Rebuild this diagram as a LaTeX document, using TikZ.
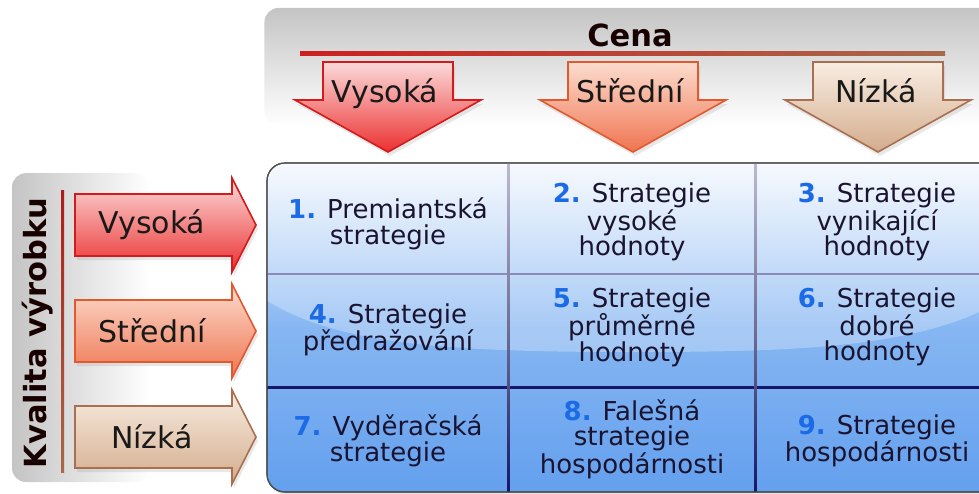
\documentclass[tikz,border=0pt]{standalone}
\usepackage{fontspec}
\setmainfont{DejaVu Sans}
\usetikzlibrary{positioning,shadows,fadings}

\definecolor{bandgray}{HTML}{C4C4C4}
\definecolor{inkdark}{HTML}{1A1430}
\definecolor{numblue}{HTML}{1C6BE6}
\definecolor{rulered}{HTML}{CC2020}
\definecolor{rulebrown}{HTML}{A8684A}
\definecolor{hiedge}{HTML}{D41A1A}
\definecolor{hitop}{HTML}{FBDADA}
\definecolor{hibot}{HTML}{EC3030}
\definecolor{midedge}{HTML}{E05A2E}
\definecolor{midtop}{HTML}{FCDCCE}
\definecolor{midbot}{HTML}{EF7450}
\definecolor{lowedge}{HTML}{A87050}
\definecolor{lowtop}{HTML}{F8EDE2}
\definecolor{lowbot}{HTML}{D4AC8C}
\definecolor{boxtop}{HTML}{F4F8FE}
\definecolor{boxmid}{HTML}{86B6F2}
\definecolor{boxbot}{HTML}{64A0EE}
\definecolor{gridlight}{HTML}{8C8AB8}
\definecolor{griddark}{HTML}{16166A}

\newcommand{\num}[1]{{\bfseries\color{numblue}#1}}

\tikzset{
  hiarrow/.style={draw=hiedge, line width=1.6pt, top color=hitop, bottom color=hibot,
    drop shadow={opacity=0.18, shadow xshift=2pt, shadow yshift=-4pt}},
  midarrow/.style={draw=midedge, line width=1.6pt, top color=midtop, bottom color=midbot,
    drop shadow={opacity=0.18, shadow xshift=2pt, shadow yshift=-4pt}},
  lowarrow/.style={draw=lowedge, line width=1.6pt, top color=lowtop, bottom color=lowbot,
    drop shadow={opacity=0.18, shadow xshift=2pt, shadow yshift=-4pt}},
  arrowlabel/.style={font=\fontsize{30}{36}\selectfont, text=black!90, inner sep=0pt},
  headlabel/.style={font=\bfseries\fontsize{30.5}{36}\selectfont, text=black!90!red, inner sep=0pt},
  celltext/.style={font=\fontsize{26}{25.5}\selectfont, text=inkdark, align=center, inner sep=0pt},
  gridframe/.style={draw=black!70, line width=1.2pt, rounded corners=18pt,
    top color=boxtop, bottom color=boxbot, middle color=boxmid,
    drop shadow={opacity=0.2, shadow xshift=2pt, shadow yshift=-3pt}}
}

\begin{document}
\begin{tikzpicture}[x=1pt, y=-1pt]
  \useasboundingbox (0,0) rectangle (979,493);
  \clip (0,0) rectangle (979,493);

  % grey bands behind the two axis titles
  \fill[bandgray, path fading=south, rounded corners=14pt] (265,8) rectangle (1010,125);
  \fill[bandgray, path fading=east, rounded corners=14pt] (12,173) rectangle (150,482);

  % axis titles and rules
  \node[headlabel] (cena) at (630,35) {Cena};
  \fill[left color=rulered, right color=rulebrown] (300,51.5) rectangle (945,55);
  \node[headlabel, rotate=90] (kvalita) at (38,333) {Kvalita výrobku};
  \fill[top color=rulered!85!black, bottom color=rulebrown] (61,190) rectangle (64,472);

  % price arrows
  \draw[hiarrow] (323,62) -- (453,62) -- (453,100) -- (481,100) -- (388,152) -- (295,100) -- (323,100) -- cycle;
  \draw[midarrow] (568,62) -- (698,62) -- (698,100) -- (726,100) -- (633,152) -- (540,100) -- (568,100) -- cycle;
  \draw[lowarrow] (813,62) -- (943,62) -- (943,100) -- (971,100) -- (878,152) -- (785,100) -- (813,100) -- cycle;
  \node[arrowlabel, anchor=base] (pricehi) at (385,102) {Vysoká};
  \node[arrowlabel, anchor=base] (pricemid) at (630,102) {Střední};
  \node[arrowlabel, anchor=base] (pricelow) at (876,102) {Nízká};

  % quality arrows
  \draw[hiarrow] (75,194) -- (232,194) -- (232,178) -- (256,225) -- (232,272) -- (232,256) -- (75,256) -- cycle;
  \draw[midarrow] (75,300) -- (232,300) -- (232,284) -- (256,331) -- (232,378) -- (232,362) -- (75,362) -- cycle;
  \draw[lowarrow] (75,406) -- (232,406) -- (232,390) -- (256,437) -- (232,484) -- (232,468) -- (75,468) -- cycle;
  \node[arrowlabel] (qualhi) at (152,225) {Vysoká};
  \node[arrowlabel] (qualmid) at (152,331) {Střední};
  \node[arrowlabel] (quallow) at (152,437) {Nízká};

  % strategy grid
  \path[gridframe] (267,163) rectangle (1010,492);
  \begin{scope}
    \clip[rounded corners=18pt] (267,163) rectangle (1010,492);
    \fill[white, opacity=0.28] (260,155) -- (1010,155) -- (1010,295)
      .. controls (930,348) and (800,352) .. (630,352)
      .. controls (450,352) and (330,345) .. (260,296) -- cycle;
    \fill[gridlight] (267,272.8) rectangle (1010,275.3);
    \fill[griddark] (267,385.8) rectangle (1010,388.6);
    \fill[top color=gridlight!60!white, bottom color=griddark, middle color=gridlight!80!black] (507,163) rectangle (509.4,492);
    \fill[top color=gridlight!60!white, bottom color=griddark, middle color=gridlight!80!black] (754,163) rectangle (756.4,492);
  \end{scope}
  \path[draw=black!70, line width=1.2pt, rounded corners=18pt] (267,163) rectangle (1010,492);

  \node[celltext] (premium) at (388,224) {\num{1.} Premiantská\\strategie};
  \node[celltext] (highval) at (632,222) {\num{2.} Strategie\\vysoké\\hodnoty};
  \node[celltext] (topval) at (877,222) {\num{3.} Strategie\\vynikající\\hodnoty};
  \node[celltext] (overcharge) at (388,330) {\num{4.} Strategie\\předražování};
  \node[celltext] (avgval) at (632,327) {\num{5.} Strategie\\průměrné\\hodnoty};
  \node[celltext] (goodval) at (877,327) {\num{6.} Strategie\\dobré\\hodnoty};
  \node[celltext] (ripoff) at (388,441) {\num{7.} Vyděračská\\strategie};
  \node[celltext] (falseecon) at (632,439) {\num{8.} Falešná\\strategie\\hospodárnosti};
  \node[celltext] (economy) at (877,441) {\num{9.} Strategie\\hospodárnosti};
\end{tikzpicture}
\end{document}
